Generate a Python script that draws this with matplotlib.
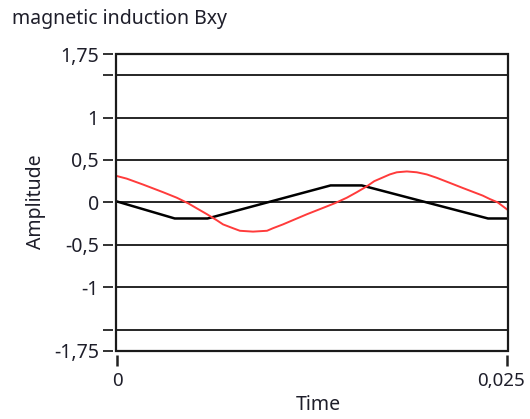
import matplotlib
matplotlib.use("Agg")
import matplotlib.pyplot as plt
import matplotlib.transforms as mtransforms
from matplotlib.patches import Rectangle

plt.rcParams['font.family'] = ['Noto Sans', 'DejaVu Sans']

# black trace (trapezoid-like)
t_black = [0.0, 0.0037, 0.0058, 0.0137, 0.0157, 0.0238, 0.025]
b_black = [0.01, -0.19, -0.19, 0.20, 0.20, -0.19, -0.19]

# red trace
t_red = [0.0, 0.00062, 0.00167, 0.00231, 0.00295, 0.00383, 0.00455,
         0.00511, 0.00577, 0.00639, 0.0068, 0.00744, 0.00788, 0.00872,
         0.00962, 0.0100, 0.01064, 0.01128, 0.01218, 0.01301, 0.01397,
         0.01474, 0.01538, 0.01603, 0.01650, 0.0175, 0.01795, 0.01859,
         0.01923, 0.01987, 0.02051, 0.02135, 0.02218, 0.02282, 0.02346,
         0.02391, 0.02442, 0.025]
b_red = [0.31, 0.28, 0.21, 0.165, 0.12, 0.055, -0.01,
         -0.07, -0.14, -0.21, -0.26, -0.305, -0.335, -0.345,
         -0.335, -0.305, -0.26, -0.21, -0.14, -0.08, -0.01,
         0.055, 0.12, 0.19, 0.25, 0.33, 0.355, 0.365,
         0.355, 0.33, 0.29, 0.23, 0.17, 0.125, 0.08,
         0.04, 0.0, -0.08]

y_ticks = [1.75, 1.5, 1, 0.5, 0, -0.5, -1, -1.5, -1.75]
y_labels = ['1,75', '', '1', '0,5', '0', '-0,5', '-1', '', '-1,75']
x_ticks = [0, 0.025]
x_labels = ['0', '0,025']

txt = '#1e1e2a'
fs = 14

fig = plt.figure(figsize=(5.30, 4.19), dpi=100)
ax = fig.add_axes([0.218, 0.163, 0.741, 0.708])

ax.plot(t_black, b_black, color='black', lw=1.8, zorder=3)
ax.plot(t_red, b_red, color='#ff3b3b', lw=1.4, zorder=4)

ax.set_xlim(-0.0001, 0.0251)
ax.set_ylim(-1.75, 1.75)

ax.set_yticks(y_ticks)
ax.set_yticklabels(y_labels)
ax.set_xticks(x_ticks)
ax.set_xticklabels(x_labels)

for y in y_ticks:
    ax.axhline(y, color='#262626', lw=1.4, zorder=2)

for s in ax.spines.values():
    s.set_color('none')
ax.spines['bottom'].set_position(('outward', 3))
ax.spines['left'].set_position(('outward', 2))

ax.add_patch(Rectangle((0, 0), 1, 1, transform=ax.transAxes, fill=False,
                       ec='#1a1a1a', lw=1.6, clip_on=False, zorder=5))

ax.tick_params(axis='y', direction='out', length=7, width=1.3, color='#222',
               labelsize=fs, labelcolor=txt, pad=3)
ax.tick_params(axis='x', direction='out', length=8, width=1.8, color='#222',
               labelsize=13.5, labelcolor=txt, pad=4)

# the right x label sits a little left of its tick, as in the original
last = ax.get_xticklabels()[-1]
last.set_transform(last.get_transform() +
                   mtransforms.ScaledTranslation(-6 / 100, 0, fig.dpi_scale_trans))

fig.text(12 / 530, 1 - 19 / 419, 'magnetic induction Bxy', fontsize=fs,
         color=txt, ha='left', va='center')
fig.text(36 / 530, 1 - 202 / 419, 'Amplitude', fontsize=fs, color=txt,
         rotation=90, ha='center', va='center')
fig.text(318 / 530, 1 - 405 / 419, 'Time', fontsize=fs, color=txt,
         ha='center', va='center')

fig.savefig('out.png', dpi=100)
